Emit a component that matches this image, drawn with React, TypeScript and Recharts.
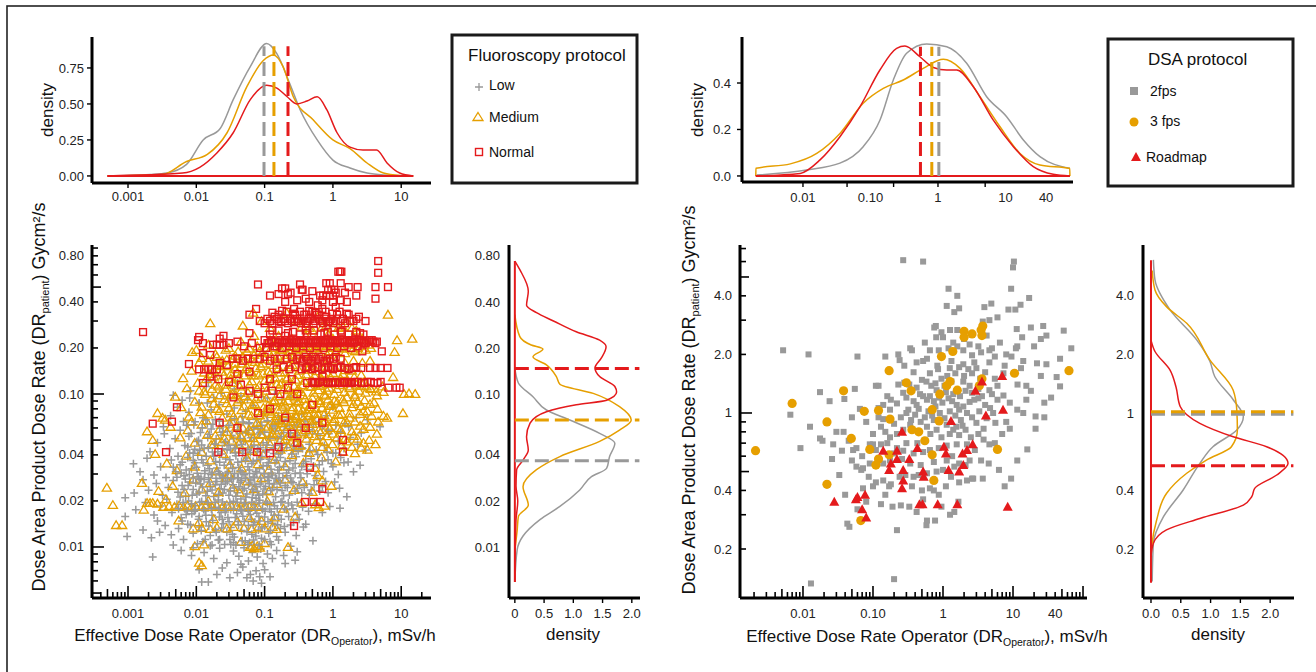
import React from 'react';
import { ScatterChart, Scatter, XAxis, YAxis, ComposedChart, Line, ReferenceLine } from 'recharts';

const GRAY = '#999999';
const ORANGE = '#E69F00';
const RED = '#E41A1C';
const INK = '#222222';
const FONT = '"Liberation Sans", Arial, Helvetica, sans-serif';

// ---------- tick labels ----------
const fluoroXLabelVals = [0.001, 0.01, 0.1, 1, 10];
const fluoroXLabelTexts = ['0.001', '0.01', '0.1', '1', '10'];
const fluoroYLabelVals = [0.01, 0.02, 0.04, 0.1, 0.2, 0.4, 0.8];
const fluoroYLabelTexts = ['0.01', '0.02', '0.04', '0.10', '0.20', '0.40', '0.80'];
const dsaXLabelVals = [0.01, 0.1, 1, 10, 40];
const dsaXLabelTexts = ['0.01', '0.10', '1', '10', '40'];
const dsaYLabelVals = [0.2, 0.4, 1, 2, 4];
const dsaYLabelTexts = ['0.2', '0.4', '1', '2.0', '4.0'];
const dsaTopTickMarks = [0.01, 0.045, 0.22, 1, 5];
const fluoroDensYTicks = [0, 0.25, 0.5, 0.75];
const dsaDensYTicks = [0, 0.2, 0.4];
const margXTicks = [0, 0.5, 1, 1.5, 2];

// ---------- fluoroscopy scatter (x = DR operator, y = DR patient) ----------
const lowPts: number[][] = [
[0.012,0.0059],[0.015,0.0059],[0.031,0.0063],[0.055,0.0063],[0.068,0.006],[0.085,0.0064],[0.12,0.0064],[0.048,0.0074],[0.024,0.0073],[0.011,0.0071],[0.04,0.0068],[0.075,0.007],[0.1,0.0071],[0.062,0.0066],[0.09,0.0058],[0.02,0.0066],[0.28,0.0082],
[0.0023,0.0086],[0.0046,0.0103],[0.006,0.0095],[0.0085,0.0088],[0.013,0.0092],[0.018,0.0084],[0.022,0.0098],[0.028,0.0079],[0.035,0.0094],[0.042,0.0087],[0.05,0.0099],[0.058,0.0081],[0.066,0.0092],[0.078,0.0086],[0.088,0.0097],[0.095,0.0078],[0.11,0.009],[0.13,0.0084],[0.15,0.0095],[0.19,0.0088],[0.24,0.0101],[0.3,0.0093],[0.016,0.0102],[0.032,0.0104],[0.07,0.0103],[0.2,0.0078],[0.009,0.0099],[0.045,0.0077],
[0.00097,0.0117],[0.00166,0.0129],[0.0022,0.0115],[0.0029,0.0125],[0.0035,0.0138],[0.0043,0.012],[0.0055,0.0132],[0.0065,0.0112],[0.0075,0.0141],[0.009,0.0123],[0.011,0.0135],[0.0125,0.0108],[0.014,0.0146],[0.016,0.0119],[0.019,0.013],[0.022,0.0112],[0.025,0.0142],[0.028,0.0125],[0.032,0.0134],[0.036,0.0116],[0.041,0.0147],[0.046,0.0128],[0.052,0.011],[0.058,0.0138],[0.065,0.0121],[0.072,0.0145],[0.081,0.0129],[0.09,0.0114],[0.1,0.0136],[0.115,0.0123],[0.13,0.0143],[0.15,0.0117],[0.17,0.0132],[0.2,0.0125],[0.24,0.0139],[0.29,0.0119],[0.37,0.0135],[0.51,0.011],[0.06,0.0107],[0.085,0.0148],[0.12,0.0108],[0.035,0.0107],[0.0027,0.0148],
[0.00091,0.0158],[0.0013,0.0175],[0.0018,0.0195],[0.0024,0.0162],[0.003,0.0185],[0.0037,0.0205],[0.0044,0.0168],[0.0052,0.019],[0.006,0.0155],[0.0068,0.0178],[0.0077,0.02],[0.0086,0.0165],[0.0096,0.0186],[0.011,0.0158],[0.012,0.0198],[0.0135,0.0172],[0.015,0.019],[0.017,0.0161],[0.019,0.0182],[0.021,0.0203],[0.023,0.0168],[0.026,0.0188],[0.029,0.0156],[0.032,0.0176],[0.035,0.0199],[0.039,0.0165],[0.043,0.0185],[0.048,0.0159],[0.053,0.0195],[0.058,0.0171],[0.064,0.0152],[0.07,0.0189],[0.077,0.0166],[0.085,0.0202],[0.093,0.0176],[0.1,0.0157],[0.11,0.0192],[0.125,0.017],[0.14,0.0186],[0.16,0.0161],[0.18,0.0198],[0.21,0.0175],[0.25,0.0188],[0.3,0.0163],[0.36,0.0182],[0.44,0.0171],[0.55,0.0192],[0.7,0.0168],[0.9,0.0184],[1.27,0.0179],[0.045,0.0206],[0.075,0.0208],[0.024,0.0152],[0.13,0.0151],
[0.00091,0.021],[0.00123,0.0225],[0.00166,0.0275],[0.002,0.0235],[0.0026,0.026],[0.0032,0.0218],[0.0039,0.0245],[0.0046,0.0272],[0.0054,0.0228],[0.0062,0.0252],[0.007,0.0215],[0.008,0.0266],[0.009,0.0238],[0.0102,0.0222],[0.0115,0.0258],[0.013,0.0276],[0.0145,0.0231],[0.016,0.0248],[0.018,0.0214],[0.02,0.0268],[0.022,0.024],[0.0245,0.0225],[0.027,0.0262],[0.03,0.0218],[0.033,0.0278],[0.036,0.0243],[0.04,0.0226],[0.044,0.0265],[0.048,0.0236],[0.053,0.0212],[0.058,0.0256],[0.063,0.0274],[0.069,0.0229],[0.075,0.0248],[0.082,0.0218],[0.09,0.0267],[0.098,0.0239],[0.107,0.0222],[0.117,0.026],[0.13,0.0244],[0.145,0.0213],[0.16,0.0271],[0.18,0.0234],[0.2,0.0252],[0.23,0.0219],[0.26,0.0263],[0.3,0.0241],[0.35,0.0226],[0.41,0.0258],[0.48,0.0236],[0.58,0.0272],[0.7,0.0248],[0.85,0.0226],[1.06,0.0266],[1.6,0.0213],[1.25,0.0242],[0.024,0.0279],[0.011,0.0277],[0.066,0.0211],[0.15,0.0278],
[0.0012,0.035],[0.0015,0.031],[0.0019,0.038],[0.0024,0.0295],[0.003,0.0335],[0.0036,0.0285],[0.0043,0.037],[0.005,0.031],[0.0058,0.0345],[0.0066,0.0292],[0.0075,0.0385],[0.0085,0.0325],[0.0095,0.0355],[0.0107,0.0288],[0.012,0.0372],[0.0133,0.0315],[0.0148,0.0342],[0.0165,0.0298],[0.018,0.0392],[0.02,0.0328],[0.022,0.0358],[0.0243,0.0291],[0.027,0.0376],[0.0295,0.0312],[0.032,0.0348],[0.035,0.0284],[0.038,0.0395],[0.042,0.0331],[0.046,0.0362],[0.05,0.0297],[0.055,0.0381],[0.06,0.0318],[0.065,0.0352],[0.071,0.0287],[0.077,0.0369],[0.084,0.0325],[0.091,0.0391],[0.099,0.0303],[0.108,0.0341],[0.118,0.0375],[0.13,0.0296],[0.142,0.0356],[0.156,0.0318],[0.17,0.0385],[0.19,0.0336],[0.21,0.0292],[0.235,0.0366],[0.26,0.0328],[0.29,0.0389],[0.33,0.0305],[0.37,0.0352],[0.42,0.0321],[0.48,0.0378],[0.55,0.0293],[0.63,0.0345],[0.73,0.0312],[0.85,0.0372],[1.0,0.0335],[1.2,0.0298],[1.45,0.0355],[1.67,0.036],[2.0,0.031],[2.5,0.0342],[0.0105,0.0398],[0.04,0.0283],[0.115,0.0289],[0.4,0.0395],
[0.0021,0.042],[0.0027,0.048],[0.0034,0.055],[0.0041,0.044],[0.0049,0.051],[0.0058,0.058],[0.0068,0.046],[0.0078,0.053],[0.009,0.041],[0.0102,0.049],[0.0115,0.056],[0.013,0.044],[0.0147,0.052],[0.0165,0.059],[0.0185,0.047],[0.0207,0.042],[0.023,0.054],[0.0257,0.048],[0.0285,0.057],[0.0315,0.043],[0.035,0.051],[0.0388,0.046],[0.043,0.055],[0.0475,0.041],[0.0525,0.049],[0.058,0.058],[0.064,0.045],[0.0705,0.052],[0.078,0.042],[0.086,0.056],[0.095,0.048],[0.105,0.043],[0.116,0.053],[0.128,0.059],[0.141,0.046],[0.156,0.051],[0.172,0.042],[0.19,0.056],[0.21,0.047],[0.235,0.053],[0.26,0.043],[0.29,0.058],[0.32,0.049],[0.36,0.044],[0.4,0.054],[0.45,0.047],[0.5,0.057],[0.57,0.043],[0.65,0.051],[0.75,0.046],[0.87,0.055],[1.0,0.041],[1.2,0.049],[1.45,0.044],[1.8,0.052],[2.3,0.047],[3.0,0.043],[0.08,0.0595],[0.022,0.0598],[0.16,0.0405],
[0.0033,0.061],[0.0042,0.072],[0.0053,0.082],[0.0065,0.066],[0.0078,0.076],[0.0092,0.063],[0.011,0.087],[0.0125,0.07],[0.0145,0.064],[0.0165,0.079],[0.019,0.068],[0.0215,0.085],[0.0245,0.062],[0.028,0.074],[0.032,0.067],[0.036,0.081],[0.041,0.063],[0.047,0.071],[0.053,0.077],[0.06,0.065],[0.068,0.084],[0.077,0.069],[0.087,0.062],[0.098,0.075],[0.11,0.066],[0.125,0.08],[0.142,0.063],[0.16,0.072],[0.18,0.067],[0.205,0.078],[0.23,0.062],[0.26,0.07],[0.3,0.065],[0.35,0.074],[0.42,0.063],[0.5,0.069],[0.62,0.066],[0.8,0.072],[1.0,0.082],[1.5,0.064],[2.2,0.07],[3.2,0.068],[4.9,0.061],[0.0145,0.0875],[0.045,0.088],
[0.0046,0.098],[0.0062,0.091],[0.0082,0.105],[0.011,0.087],[0.014,0.112],[0.018,0.095],[0.023,0.101],[0.029,0.093],[0.036,0.108],[0.045,0.097],[0.056,0.092],[0.07,0.103],[0.09,0.096],[0.11,0.094],[0.14,0.1],[0.18,0.092],[0.24,0.097],[0.3,0.093],[0.015,0.12],[0.04,0.118],[0.008,0.094]
];
const lowCorePts: number[][] = [
[0.0062,0.0148],[0.0071,0.0163],[0.0082,0.0139],[0.0093,0.0171],[0.0108,0.0152],[0.0118,0.0128],[0.0138,0.0161],[0.0152,0.0137],[0.0174,0.0149],[0.0196,0.0125],[0.0218,0.0157],[0.0236,0.0133],[0.0265,0.0169],[0.0302,0.0146],[0.0338,0.0121],[0.0372,0.0156],[0.0415,0.0139],[0.0462,0.0172],[0.0505,0.0147],[0.0552,0.0126],[0.0615,0.0163],[0.0682,0.0139],[0.0745,0.0118],[0.0825,0.0158],[0.0915,0.0133],[0.102,0.0171],[0.112,0.0146],[0.122,0.0128],[0.138,0.0161],[0.155,0.014],[0.175,0.0152],[0.195,0.0136],[0.225,0.0158],[0.265,0.0145],[0.32,0.0152],[0.4,0.0141],
[0.0058,0.0212],[0.0066,0.0238],[0.0076,0.0252],[0.0087,0.0218],[0.0098,0.0262],[0.011,0.0229],[0.0123,0.0247],[0.0138,0.0216],[0.0154,0.0266],[0.017,0.0236],[0.019,0.0255],[0.0212,0.0221],[0.0232,0.0257],[0.0258,0.0238],[0.0285,0.0269],[0.0315,0.0232],[0.0345,0.0255],[0.038,0.0215],[0.042,0.0248],[0.046,0.0273],[0.0505,0.0242],[0.055,0.0222],[0.0605,0.0262],[0.066,0.0238],[0.072,0.0255],[0.0785,0.0231],[0.086,0.0258],[0.094,0.0222],[0.103,0.0249],[0.112,0.0272],[0.123,0.0234],[0.137,0.0258],[0.152,0.0238],[0.17,0.0262],[0.19,0.0216],[0.215,0.0245],[0.245,0.0268],[0.28,0.0232],[0.32,0.0256],[0.38,0.0245],[0.45,0.0222],[0.53,0.0255],[0.64,0.0232],[0.78,0.0268],
[0.0046,0.0332],[0.0054,0.0392],[0.0062,0.0358],[0.0071,0.0318],[0.008,0.0412],[0.009,0.0368],[0.01,0.0332],[0.0112,0.0428],[0.0126,0.0355],[0.014,0.0392],[0.0156,0.0325],[0.0172,0.0418],[0.0192,0.0362],[0.021,0.0312],[0.0232,0.0405],[0.0256,0.0342],[0.0282,0.0432],[0.031,0.0372],[0.034,0.0326],[0.0372,0.0412],[0.0405,0.0358],[0.044,0.0315],[0.048,0.0425],[0.0525,0.0368],[0.057,0.0335],[0.062,0.0415],[0.068,0.0362],[0.074,0.0312],[0.08,0.0435],[0.087,0.0375],[0.095,0.0338],[0.104,0.0418],[0.113,0.0355],[0.124,0.0322],[0.136,0.0408],[0.15,0.0368],[0.165,0.0332],[0.182,0.0425],[0.2,0.0362],[0.225,0.0318],[0.25,0.0405],[0.28,0.0352],[0.31,0.0425],[0.35,0.0335],[0.4,0.0362],[0.46,0.0425],[0.52,0.0338],[0.6,0.0402],[0.7,0.0365],[0.82,0.0418],[0.95,0.0352],[1.1,0.0412],[1.3,0.0385],
[0.0072,0.0625],[0.0084,0.0552],[0.0096,0.0658],[0.0108,0.0498],[0.0122,0.0602],[0.0138,0.0678],[0.0155,0.0545],[0.0175,0.0635],[0.0195,0.0508],[0.0218,0.0665],[0.0242,0.0562],[0.027,0.0488],[0.03,0.0625],[0.033,0.0535],[0.0365,0.0688],[0.04,0.0585],[0.044,0.0512],[0.0485,0.0655],[0.053,0.0562],[0.058,0.0638],[0.0635,0.0518],[0.0695,0.0605],[0.076,0.0682],[0.083,0.0548],[0.091,0.0625],[0.1,0.0565],[0.11,0.0668],[0.12,0.0512],[0.132,0.0618],[0.145,0.0572],[0.16,0.0658],[0.176,0.0525],[0.195,0.0612],[0.215,0.0682],[0.24,0.0558],[0.27,0.0628],[0.3,0.0535],[0.34,0.0608],[0.39,0.0665],[0.45,0.0585],[0.52,0.0632],[0.6,0.0548],[0.7,0.0612],[0.85,0.0578],[1.1,0.0625],[1.3,0.0558],[1.7,0.0612],[2.6,0.0555]
];
const lowFillPts: number[][] = [
[0.0055,0.0178],[0.0064,0.0195],[0.0074,0.0172],[0.0085,0.0192],[0.0097,0.0175],[0.0112,0.0196],[0.0128,0.0176],[0.0146,0.0195],[0.0166,0.0178],[0.0188,0.0196],[0.0214,0.0178],[0.0242,0.0197],[0.0274,0.0176],[0.031,0.0195],[0.035,0.0177],[0.0396,0.0196],[0.0448,0.0175],[0.0506,0.0194],[0.0572,0.0178],[0.0646,0.0196],[0.073,0.0177],[0.0825,0.0194],[0.093,0.0178],[0.105,0.0197],[0.119,0.0177],[0.135,0.0195],[0.153,0.0178],[0.173,0.0196],[0.196,0.0178],[0.222,0.0194],[0.26,0.0178],[0.3,0.0196],
[0.0052,0.0286],[0.006,0.0305],[0.0069,0.0278],[0.0079,0.0298],[0.009,0.0282],[0.0103,0.0303],[0.0117,0.0281],[0.0133,0.0302],[0.0151,0.0283],[0.0171,0.0305],[0.0194,0.0281],[0.022,0.0301],[0.025,0.0283],[0.0283,0.0304],[0.0321,0.0281],[0.0364,0.0302],[0.0412,0.0283],[0.0467,0.0305],[0.0529,0.0281],[0.06,0.0302],[0.068,0.0283],[0.077,0.0305],[0.0873,0.0282],[0.099,0.0301],[0.112,0.0283],[0.127,0.0304],[0.144,0.0281],[0.163,0.0302],[0.185,0.0283],[0.21,0.0305],[0.24,0.0282],[0.28,0.0302],[0.34,0.0283],[0.42,0.0301],
[0.0104,0.0105],[0.0135,0.0112],[0.017,0.0103],[0.021,0.0111],[0.026,0.0104],[0.031,0.0112],[0.038,0.0103],[0.047,0.011],[0.057,0.0104],[0.069,0.0111],[0.083,0.0103],[0.1,0.0112],[0.125,0.0104],[0.16,0.0111],
[0.0075,0.045],[0.0095,0.0435],[0.012,0.0465],[0.015,0.0445],[0.019,0.047],[0.024,0.0438],[0.03,0.0462],[0.037,0.0442],[0.046,0.0468],[0.057,0.0436],[0.07,0.046],[0.087,0.0445],[0.108,0.0465],[0.135,0.044],[0.17,0.0462],[0.21,0.0445],[0.27,0.046],[0.35,0.0445]
];

const mediumPts: number[][] = [
[0.011,0.0079],[0.012,0.0076],[0.061,0.01],[0.066,0.0102],[0.07,0.0098],[0.078,0.0101],[0.085,0.0099],[0.22,0.01],[0.0095,0.0101],[0.013,0.0104],[0.045,0.0108],[0.1,0.0106],
[0.00067,0.0139],[0.00082,0.0139],[0.009,0.0132],[0.012,0.0133],[0.016,0.0131],[0.02,0.0134],[0.028,0.0132],[0.035,0.0135],[0.05,0.0133],[0.065,0.0131],[0.08,0.0134],[0.1,0.0132],[0.13,0.0135],[0.15,0.0131],[0.28,0.0158],[0.018,0.0152],[0.04,0.0147],[0.09,0.0148],[0.011,0.0145],[0.0055,0.0149],[0.14,0.0156],[0.06,0.0155],
[0.0006,0.0188],[0.0017,0.0175],[0.0019,0.0194],[0.0021,0.0194],[0.0023,0.0194],[0.0027,0.0192],[0.0033,0.0183],[0.004,0.0185],[0.0048,0.0183],[0.0056,0.0187],[0.0065,0.0183],[0.0074,0.0186],[0.0085,0.0183],[0.0098,0.0185],[0.012,0.0183],[0.014,0.0188],[0.017,0.0183],[0.02,0.0186],[0.024,0.0183],[0.028,0.0187],[0.033,0.0183],[0.039,0.0185],[0.045,0.0183],[0.052,0.0186],[0.06,0.0183],[0.07,0.0185],[0.08,0.0183],[0.0036,0.0205],[0.015,0.0201],[0.11,0.0199],[0.19,0.0178],[0.35,0.0195],[0.55,0.019],[0.75,0.0186],[0.62,0.0182],
[0.00049,0.0244],[0.0016,0.0262],[0.0028,0.0232],[0.0045,0.0251],[0.0068,0.0226],[0.009,0.0275],[0.012,0.0238],[0.016,0.0262],[0.021,0.0228],[0.027,0.0284],[0.034,0.0245],[0.043,0.0226],[0.055,0.0268],[0.07,0.0239],[0.09,0.0282],[0.115,0.0231],[0.15,0.0258],[0.2,0.0276],[0.27,0.0236],[0.36,0.0265],[0.5,0.0229],[0.7,0.0272],[0.95,0.0251],[0.6,0.0295],[0.03,0.0298],
[0.0037,0.0352],[0.0052,0.0318],[0.0071,0.0395],[0.0095,0.0335],[0.012,0.0418],[0.016,0.0368],[0.02,0.0312],[0.025,0.0405],[0.031,0.0345],[0.038,0.0438],[0.046,0.0326],[0.055,0.0382],[0.066,0.0425],[0.08,0.0348],[0.095,0.0402],[0.115,0.0318],[0.14,0.0372],[0.17,0.0432],[0.2,0.0336],[0.25,0.0398],[0.3,0.0442],[0.37,0.0355],[0.45,0.0412],[0.55,0.0328],[0.68,0.0386],[0.85,0.0436],[1.1,0.0362],[1.4,0.0418],[2.1,0.041],[2.6,0.0445],[3.2,0.0432],[0.0025,0.0405],
[0.0019,0.057],[0.0023,0.05],[0.0042,0.061],[0.0058,0.052],[0.0075,0.058],[0.0095,0.048],[0.012,0.063],[0.0145,0.054],[0.018,0.047],[0.022,0.059],[0.026,0.051],[0.031,0.064],[0.036,0.055],[0.042,0.047],[0.048,0.06],[0.055,0.052],[0.063,0.057],[0.072,0.049],[0.082,0.062],[0.093,0.054],[0.105,0.059],[0.12,0.047],[0.135,0.063],[0.15,0.055],[0.17,0.05],[0.19,0.061],[0.22,0.053],[0.25,0.058],[0.28,0.048],[0.32,0.064],[0.36,0.056],[0.41,0.051],[0.47,0.06],[0.54,0.053],[0.62,0.058],[0.72,0.049],[0.84,0.062],[1.0,0.055],[1.2,0.06],[1.5,0.051],[1.9,0.057],[2.5,0.062],[3.5,0.061],[4.4,0.055],
[0.0027,0.075],[0.0032,0.07],[0.0035,0.068],[0.0049,0.096],[0.006,0.082],[0.0078,0.071],[0.0095,0.089],[0.0115,0.076],[0.014,0.067],[0.017,0.094],[0.02,0.08],[0.024,0.07],[0.028,0.087],[0.033,0.075],[0.038,0.098],[0.044,0.068],[0.05,0.083],[0.057,0.092],[0.064,0.072],[0.072,0.086],[0.081,0.077],[0.09,0.095],[0.1,0.069],[0.112,0.084],[0.125,0.074],[0.14,0.091],[0.155,0.079],[0.172,0.067],[0.19,0.088],[0.21,0.075],[0.235,0.097],[0.26,0.082],[0.29,0.07],[0.32,0.09],[0.36,0.078],[0.4,0.085],[0.45,0.072],[0.5,0.094],[0.57,0.08],[0.65,0.087],[0.74,0.073],[0.85,0.092],[1.0,0.079],[1.15,0.088],[1.35,0.074],[1.6,0.095],[1.9,0.082],[2.3,0.089],[2.8,0.077],[3.5,0.086],[4.5,0.08],[6.2,0.07],[10.6,0.075],[0.032,0.099],[0.0085,0.066],
[0.0064,0.127],[0.0073,0.109],[0.0085,0.142],[0.0105,0.118],[0.013,0.104],[0.016,0.135],[0.019,0.115],[0.023,0.152],[0.027,0.108],[0.032,0.126],[0.037,0.145],[0.043,0.112],[0.05,0.132],[0.057,0.102],[0.065,0.121],[0.074,0.148],[0.084,0.114],[0.095,0.136],[0.107,0.105],[0.12,0.125],[0.135,0.155],[0.15,0.116],[0.17,0.138],[0.19,0.107],[0.215,0.128],[0.24,0.149],[0.27,0.113],[0.3,0.133],[0.34,0.103],[0.38,0.122],[0.43,0.144],[0.48,0.111],[0.54,0.131],[0.61,0.106],[0.69,0.125],[0.78,0.151],[0.88,0.117],[1.0,0.137],[1.15,0.108],[1.3,0.126],[1.5,0.143],[1.75,0.112],[2.05,0.129],[2.4,0.105],[2.9,0.12],[3.5,0.109],[4.3,0.104],[7.6,0.129],[11,0.1],[13,0.101],[16,0.1],[5.5,0.103],[0.045,0.158],
[0.0087,0.188],[0.01,0.194],[0.012,0.172],[0.015,0.21],[0.019,0.182],[0.024,0.165],[0.03,0.2],[0.037,0.178],[0.045,0.22],[0.055,0.19],[0.065,0.168],[0.078,0.205],[0.092,0.185],[0.108,0.2],[0.125,0.175],[0.145,0.215],[0.165,0.195],[0.19,0.2],[0.22,0.18],[0.25,0.203],[0.29,0.198],[0.33,0.2],[0.38,0.185],[0.44,0.205],[0.5,0.2],[0.58,0.195],[0.67,0.21],[0.78,0.2],[0.9,0.19],[1.05,0.205],[1.2,0.2],[1.4,0.198],[1.65,0.21],[1.95,0.195],[2.3,0.2],[2.7,0.23],[3.3,0.21],[8,0.188],[8.7,0.225],[14.5,0.23],[0.16,0.24],[0.4,0.24],[0.85,0.245],[0.07,0.24],
[0.016,0.29],[0.048,0.28],[0.068,0.34],[0.21,0.34],[0.12,0.27],[0.3,0.3],[0.5,0.26],[0.8,0.28],[1.2,0.27],[1.6,0.3],[6.4,0.33],[2.2,0.26],[0.09,0.3],[0.6,0.32],[0.35,0.275],[0.45,0.27],[0.7,0.275],[1.0,0.27],[1.4,0.275],[1.9,0.27]
];
const mediumCorePts: number[][] = [
[0.0165,0.0465],[0.019,0.0535],[0.0235,0.0485],[0.028,0.0565],[0.033,0.0495],[0.039,0.0612],[0.045,0.0528],[0.052,0.0468],[0.059,0.0585],[0.068,0.0515],[0.077,0.0648],[0.088,0.0545],[0.099,0.0488],[0.112,0.0612],[0.127,0.0525],[0.143,0.0668],[0.16,0.0578],[0.18,0.0648],[0.2,0.0505],[0.23,0.0625],[0.26,0.0688],[0.3,0.0545],[0.34,0.0612],[0.39,0.0668],[0.44,0.0548],[0.5,0.0638],[0.58,0.0685],[0.66,0.0562],[0.77,0.0665],[0.9,0.0598],[1.05,0.0688],[1.3,0.0582],[1.6,0.0655],[2.0,0.0532],[2.8,0.0592],
[0.012,0.0825],[0.015,0.0735],[0.018,0.0865],[0.022,0.0775],[0.026,0.0925],[0.03,0.0815],[0.035,0.0712],[0.04,0.0885],[0.046,0.0785],[0.052,0.0965],[0.058,0.0735],[0.066,0.0845],[0.075,0.0925],[0.085,0.0725],[0.096,0.0812],[0.106,0.0935],[0.118,0.0765],[0.132,0.0885],[0.148,0.0715],[0.165,0.0965],[0.18,0.0825],[0.2,0.0738],[0.22,0.0902],[0.25,0.0785],[0.28,0.0948],[0.31,0.0805],[0.35,0.0715],[0.39,0.0925],[0.43,0.0795],[0.48,0.0868],[0.54,0.0742],[0.61,0.0905],[0.69,0.0812],[0.78,0.0975],[0.88,0.0835],[1.05,0.0902],[1.25,0.0812],[1.45,0.0885],[1.75,0.0745],[2.1,0.0955],[2.6,0.0835],[3.2,0.0768],
[0.011,0.105],[0.014,0.125],[0.018,0.142],[0.021,0.112],[0.025,0.132],[0.029,0.152],[0.034,0.118],[0.04,0.138],[0.046,0.106],[0.053,0.145],[0.06,0.115],[0.069,0.132],[0.078,0.108],[0.088,0.152],[0.1,0.122],[0.113,0.141],[0.127,0.112],[0.142,0.128],[0.16,0.148],[0.18,0.119],[0.2,0.139],[0.225,0.106],[0.255,0.155],[0.285,0.124],[0.32,0.142],[0.36,0.114],[0.405,0.134],[0.455,0.152],[0.51,0.121],[0.575,0.141],[0.65,0.113],[0.73,0.136],[0.82,0.105],[0.93,0.128],[1.08,0.148],[1.22,0.118],[1.4,0.135],[1.62,0.124],[1.9,0.142],[2.2,0.115],[2.6,0.133],[3.1,0.112],
[0.02,0.175],[0.027,0.195],[0.034,0.17],[0.041,0.19],[0.05,0.165],[0.06,0.198],[0.07,0.18],[0.085,0.192],[0.1,0.168],[0.115,0.188],[0.135,0.2],[0.155,0.178],[0.175,0.195],[0.2,0.172],[0.23,0.19],[0.27,0.205],[0.31,0.18],[0.36,0.195],[0.41,0.2],[0.47,0.178],[0.54,0.2],[0.62,0.188],[0.72,0.205],[0.83,0.18],[0.96,0.2],[1.1,0.19],[1.3,0.205],[1.5,0.185],[1.8,0.2],[2.1,0.19],[2.5,0.205],[3.0,0.195],[3.6,0.2],[0.12,0.225],[0.25,0.23],[0.55,0.225],[1.0,0.23],[2.0,0.235]
];
const mediumFillPts: number[][] = [
[0.22,0.045],[0.27,0.052],[0.33,0.046],[0.4,0.058],[0.48,0.044],[0.58,0.05],[0.7,0.045],[0.82,0.053],[0.98,0.047],[1.15,0.052],[1.35,0.046],[1.6,0.049],[1.9,0.045],[2.3,0.051],[2.8,0.048],[3.4,0.05],[4.2,0.047],
[0.24,0.066],[0.29,0.072],[0.35,0.064],[0.42,0.075],[0.5,0.067],[0.6,0.074],[0.72,0.065],[0.86,0.071],[1.02,0.066],[1.22,0.073],[1.45,0.065],[1.75,0.07],[2.1,0.066],[2.5,0.074],[3.0,0.067],[3.7,0.072],[4.6,0.066],[5.5,0.072],
[0.26,0.1],[0.31,0.108],[0.37,0.098],[0.44,0.112],[0.52,0.102],[0.62,0.115],[0.74,0.099],[0.88,0.11],[1.05,0.1],[1.25,0.114],[1.48,0.103],[1.76,0.109],[2.1,0.099],[2.5,0.113],[3.0,0.102],[3.6,0.108],[4.4,0.098],[5.3,0.112],
[0.011,0.16],[0.013,0.138],[0.015,0.165],[0.018,0.13],[0.021,0.155],[0.024,0.14],[0.028,0.168],[0.032,0.135],[0.037,0.158],[0.042,0.128],[0.048,0.176],[0.055,0.15],[0.063,0.138],[0.072,0.162],[0.082,0.132],[0.094,0.158],[0.0135,0.1],[0.017,0.108],[0.022,0.098],[0.027,0.115],[0.034,0.1],[0.042,0.092],
[0.2,0.085],[0.3,0.088],[0.45,0.082],[0.65,0.09],[0.95,0.085],[1.4,0.092],[2.0,0.086],[2.9,0.091],[4.0,0.088],
[0.13,0.055],[0.16,0.068],[0.11,0.078],[0.14,0.09],[0.17,0.115],[0.21,0.125],[0.12,0.135],[0.15,0.165],[0.23,0.155],[0.28,0.17],[0.35,0.165],[0.45,0.16],[0.6,0.165],[0.8,0.16],[1.1,0.165],[1.5,0.16],[2.0,0.165],[2.7,0.16],[3.5,0.165]
];

const normalPts: number[][] = [
[0.08,0.52],[0.18,0.49],[0.2,0.49],[0.22,0.45],[0.24,0.46],[0.33,0.52],[0.35,0.48],[0.36,0.48],[0.5,0.47],[0.65,0.44],[0.72,0.44],[0.8,0.44],[0.9,0.44],[1.0,0.44],[0.85,0.48],[0.95,0.48],[1.05,0.48],[1.1,0.46],[1.2,0.63],[1.27,0.63],[1.33,0.63],[0.8,0.53],[0.9,0.53],[1.3,0.53],[1.7,0.5],[2.3,0.5],[2.2,0.44],[1.6,0.4],[4.2,0.5],[6.4,0.5],[4.2,0.42],[4.6,0.74],[4.6,0.62],[0.6,0.38],[1.5,0.46],[0.4,0.42],
[0.085,0.3],[0.1,0.29],[0.12,0.3],[0.14,0.32],[0.16,0.3],[0.19,0.31],[0.22,0.29],[0.25,0.3],[0.28,0.33],[0.31,0.3],[0.34,0.29],[0.38,0.33],[0.42,0.3],[0.47,0.31],[0.52,0.29],[0.58,0.33],[0.65,0.3],[0.72,0.29],[0.8,0.32],[0.9,0.3],[1.0,0.29],[1.15,0.33],[1.3,0.3],[1.5,0.29],[1.7,0.33],[2.0,0.3],[2.4,0.32],[3.0,0.3],[0.06,0.33],[0.075,0.36],[0.27,0.36],[0.45,0.35],[0.7,0.36],[1.1,0.37],[0.18,0.35],[0.55,0.34],
[0.0106,0.225],[0.011,0.236],[0.0125,0.215],[0.0176,0.21],[0.02,0.21],[0.022,0.21],[0.025,0.21],[0.022,0.23],[0.03,0.215],[0.04,0.22],[0.05,0.205],[0.065,0.215],[0.085,0.2],[0.1,0.225],[0.115,0.215],[0.13,0.22],[0.15,0.205],[0.17,0.225],[0.19,0.215],[0.21,0.22],[0.24,0.225],[0.27,0.215],[0.3,0.22],[0.34,0.225],[0.38,0.215],[0.43,0.22],[0.48,0.225],[0.54,0.215],[0.6,0.22],[0.68,0.225],[0.76,0.215],[0.85,0.22],[0.95,0.225],[1.07,0.215],[1.2,0.22],[1.35,0.225],[1.5,0.22],[1.7,0.215],[1.9,0.225],[2.1,0.22],[2.4,0.225],[2.7,0.22],[3.0,0.215],[3.4,0.225],[3.9,0.22],[4.4,0.22],[5.2,0.19],[0.22,0.25],[0.4,0.26],[0.75,0.25],[1.3,0.26],[2.5,0.25],[0.13,0.26],[0.06,0.25],[0.025,0.24],[0.00166,0.254],
[0.0078,0.157],[0.011,0.145],[0.013,0.145],[0.015,0.145],[0.017,0.145],[0.02,0.145],[0.022,0.16],[0.028,0.155],[0.034,0.17],[0.04,0.17],[0.048,0.165],[0.057,0.17],[0.068,0.17],[0.085,0.17],[0.1,0.175],[0.12,0.165],[0.14,0.17],[0.17,0.17],[0.21,0.17],[0.25,0.175],[0.3,0.17],[0.36,0.165],[0.43,0.17],[0.52,0.175],[0.62,0.17],[0.75,0.165],[0.9,0.17],[1.1,0.175],[0.15,0.145],[0.19,0.15],[0.23,0.145],[0.28,0.15],[0.35,0.145],[0.42,0.15],[0.5,0.145],[0.6,0.15],[0.7,0.145],[0.85,0.15],[1.0,0.145],[1.3,0.15],[1.7,0.145],[2.2,0.15],[3.5,0.148],[4.2,0.148],[5.0,0.148],[6.3,0.148],[0.06,0.14],[0.04,0.135],[2.7,0.19],[0.0125,0.185],[0.016,0.18],
[0.0125,0.118],[0.0158,0.13],[0.021,0.125],[0.03,0.12],[0.045,0.115],[0.06,0.105],[0.08,0.1],[0.1,0.11],[0.13,0.105],[0.17,0.1],[0.22,0.11],[0.3,0.1],[0.42,0.118],[0.5,0.12],[0.6,0.118],[0.72,0.12],[0.85,0.118],[1.0,0.12],[1.2,0.118],[1.45,0.12],[1.75,0.118],[2.1,0.12],[2.6,0.118],[3.2,0.12],[4.0,0.118],[5.0,0.12],[6.5,0.11],[8.5,0.11],[9.5,0.11],[0.035,0.095],[0.25,0.125],[0.7,0.13],[0.12,0.125],
[0.0023,0.064],[0.0044,0.066],[0.0052,0.082],[0.022,0.065],[0.04,0.06],[0.08,0.075],[0.12,0.08],[0.2,0.07],[0.25,0.055],[0.4,0.06],[0.7,0.065],[1.4,0.05],[0.5,0.085],[0.0036,0.0417],[0.021,0.0417],[0.047,0.0417],[0.077,0.0417],[0.12,0.041],[1.4,0.042],[0.46,0.033],[0.7,0.024],[0.39,0.0197],[0.52,0.0197],[0.65,0.0197],[0.27,0.0137],[0.16,0.045],[0.3,0.048]
];
const normalRowPts: number[][] = [
[0.11,0.215],[0.125,0.225],[0.145,0.22],[0.16,0.215],[0.18,0.22],[0.2,0.225],[0.225,0.215],[0.255,0.22],[0.285,0.225],[0.32,0.215],[0.36,0.22],[0.4,0.225],[0.455,0.215],[0.51,0.22],[0.57,0.225],[0.64,0.215],[0.72,0.22],[0.8,0.225],[0.9,0.215],[1.0,0.22],[1.13,0.225],[1.28,0.215],[1.42,0.22],[1.6,0.225],[1.8,0.22],[2.0,0.215],[2.25,0.22],[2.55,0.225],[2.85,0.215],[3.2,0.22],[3.7,0.225],[4.2,0.215],
[0.11,0.31],[0.13,0.29],[0.15,0.31],[0.175,0.295],[0.2,0.3],[0.235,0.31],[0.27,0.295],[0.3,0.31],[0.36,0.3],[0.4,0.29],[0.44,0.31],[0.55,0.3],[0.62,0.31],[0.7,0.3],[0.85,0.295],[0.95,0.31],[1.1,0.3],[1.4,0.31],[1.8,0.3],[2.2,0.31],
[0.33,0.17],[0.4,0.175],[0.48,0.165],[0.57,0.17],[0.68,0.175],[0.82,0.165],[1.0,0.17],[1.3,0.17],[0.4,0.148],[0.55,0.148],[0.75,0.148],[0.95,0.148],[1.15,0.148],[1.5,0.148],[2.0,0.148],[2.6,0.148],[0.55,0.118],[0.65,0.12],[0.8,0.12],[0.95,0.118],[1.1,0.12],[1.35,0.118],[1.6,0.12],[1.9,0.118],[2.3,0.12],[2.9,0.118],[3.6,0.12],[4.5,0.118],
[0.105,0.2],[0.14,0.205],[0.18,0.2],[0.23,0.205],[0.29,0.2],[0.37,0.205],[0.46,0.2],[0.58,0.205],[0.73,0.2],[0.92,0.205],[1.15,0.2],[1.45,0.205],[1.85,0.2],[2.3,0.205],
[0.12,0.245],[0.16,0.26],[0.2,0.24],[0.26,0.255],[0.33,0.245],[0.42,0.25],[0.53,0.26],[0.66,0.245],[0.84,0.255],[1.05,0.245],[1.35,0.255],[1.7,0.245],[2.2,0.255],[2.8,0.245],
[0.13,0.34],[0.16,0.33],[0.21,0.345],[0.26,0.335],[0.33,0.345],[0.41,0.33],[0.5,0.345],[0.62,0.33],[0.78,0.345],[0.98,0.335],[1.25,0.345],[1.6,0.335],
[0.2,0.4],[0.3,0.41],[0.45,0.4],[0.7,0.41],[1.0,0.4],[1.3,0.41],[0.12,0.44],[0.16,0.45]
];

// ---------- DSA scatter ----------
const fps2Pts: number[][] = [
[0.27,6.1],[0.52,6.0],[10.3,6.0],[10,5.6],[9.4,4.35],[1.2,4.35],[1.6,4.0],[1.13,3.55],[1.7,3.45],[1.45,3.3],[3.9,3.5],[4.9,3.65],[6.0,3.1],[8.6,3.4],[10.8,3.4],[12.8,3.6],[17,3.9],[4.6,3.0],[3.7,2.95],[0.79,2.8],[0.75,2.75],[0.95,2.6],[1.0,2.45],[0.8,2.45],[1.26,2.67],[1.6,2.67],[11.3,2.7],[18,2.75],[27,2.8],[53,2.65],[25,2.4],[13.5,2.45],[11.5,2.2],[68,2.15],[11,2.15],[5,2.15],[4.6,2.1],[3.2,2.2],[2.4,2.25],[1.95,2.1],[1.6,2.2],[0.87,2.1],[1.2,2.15],[0.65,2.1],[0.34,2.15],[0.36,2.1],[0.23,2.0],[0.15,1.95],[0.0052,2.1],[0.012,2.0],[0.06,1.95],[0.24,1.87],[0.59,1.9],[0.52,1.85],[0.42,1.82],[0.28,1.75],[0.83,1.75],[1.32,1.85],[1.95,1.78],[2.8,1.82],[4.6,1.82],[7.6,1.75],[14,1.85],[22,1.8],[30,1.78],[47,1.9],[7.3,1.6],[10.3,1.6],[42,1.53],[47,1.37],[15.5,1.38],[11.6,1.4],[6,1.38],[4.6,1.31],[3.2,1.33],[2.4,1.38],[1.95,1.45],[1.32,1.45],[0.95,1.5],[0.68,1.38],[0.5,1.48],[0.38,1.62],[0.28,1.43],[0.23,1.4],[0.11,1.38],[0.12,1.38],[0.055,1.33],[0.0175,1.28],[0.024,1.15],[0.039,1.18],[0.0066,0.98],[0.0092,0.66],[0.0126,0.85],[0.0175,0.74],[0.019,0.72],[0.027,0.69],[0.03,0.8],[0.038,0.8],[0.036,0.64],[0.052,0.645],[0.05,0.57],[0.058,0.66],[0.072,0.52],[0.09,0.55],[0.1,0.69],[0.1,0.78],[0.12,1.06],[0.12,0.95],[0.14,0.93],[0.175,1.04],[0.18,1.17],[0.27,1.27],[0.32,1.04],[0.42,1.1],[0.59,1.17],[0.74,1.15],[0.52,1.22],[0.81,1.31],[0.98,1.13],[1.2,1.19],[1.35,1.15],[1.57,1.1],[1.7,1.04],[1.95,1.08],[2.4,1.14],[2.8,1.17],[3.2,1.19],[4.0,1.1],[4.7,1.06],[6,1.17],[7.3,1.23],[9,1.13],[11.5,1.04],[15.5,1.17],[28,1.13],[21,0.96],[28,0.95],[21,0.83],[9,0.83],[8,0.9],[5.6,0.89],[3.8,0.73],[6.3,0.51],[11.5,0.57],[9.4,0.46],[7.6,0.42],[3.7,0.46],[2.7,0.46],[2.2,0.45],[1.7,0.44],[0.87,0.38],[0.74,0.4],[0.65,0.41],[0.5,0.4],[0.52,0.36],[0.42,0.31],[0.59,0.28],[0.58,0.265],[0.77,0.28],[1.26,0.3],[1.45,0.31],[1.66,0.35],[0.33,0.33],[0.25,0.335],[0.19,0.33],[0.22,0.25],[0.2,0.14],[0.013,0.133],[0.046,0.26],[0.043,0.27],[0.072,0.41],[0.087,0.47],[0.1,0.42],[0.11,0.44],[0.14,0.45],[0.17,0.42],[0.18,0.43],[0.24,0.47],[0.29,0.48],[0.38,0.47],[0.45,0.48],[0.59,0.49],[0.81,0.5],[1.0,0.51],[1.45,0.53],[1.7,0.55],[2.1,0.54],[2.6,0.46],[0.068,0.51],[0.058,0.53],[0.09,0.69],[0.11,0.645],[0.13,0.69],[0.175,0.75],[0.22,0.78],[0.27,0.82],[0.34,0.87],[0.48,0.9],[0.59,0.85],[0.74,0.92],[0.81,0.82],[1.13,0.87],[1.4,0.82],[1.7,0.77],[2.1,0.82],[3.0,0.89],[3.8,0.83],[4.6,0.69],[2.2,0.69],[1.57,0.69],[1.13,0.68],[0.87,0.66],[0.65,0.645],[0.52,0.63],[0.38,0.62],[0.27,0.64],[0.22,0.66],[0.175,0.57],[0.14,0.55],[0.34,0.55],[0.48,0.54],[0.74,0.56],[1.13,0.57],[1.35,0.6],[2.4,0.57],[3.5,0.57],[2.85,0.645],
[0.2,0.88],[0.25,0.95],[0.3,1.0],[0.35,0.92],[0.4,0.98],[0.45,1.05],[0.55,0.95],[0.62,1.02],[0.7,0.97],[0.78,1.08],[0.9,1.0],[1.05,0.94],[1.25,1.02],[1.5,0.97],[1.8,0.92],[2.2,1.0],[2.6,0.95],[3.3,1.02],[4.2,0.94],[5.2,1.0],[0.22,1.12],[0.3,1.2],[0.38,1.15],[0.47,1.25],[0.65,1.22],[0.88,1.2],[1.1,1.28],[1.4,1.25],[1.75,1.22],[2.1,1.3],[2.6,1.27],[3.6,1.22],[5.0,1.25],[0.33,1.4],[0.42,1.35],[0.58,1.45],[0.78,1.42],[1.05,1.38],[1.15,1.55],[1.5,1.6],[2.0,1.55],[2.6,1.6],[3.4,1.5],[4.0,1.62],[5.5,1.5],[0.65,1.6],[0.85,1.68],[1.25,1.7],[1.7,1.72],[2.3,1.68],[3.0,1.7],[5.5,1.95],[6.5,2.3],[8,2.0],[2.6,1.98],[3.5,2.05],[1.4,2.3],[2.0,2.4],[0.55,2.3],[4.2,2.5],[0.16,0.7],[0.2,0.62],[0.26,0.58],[0.3,0.7],[0.43,0.7],[0.55,0.72],[0.66,0.78],[0.95,0.75],[1.25,0.78],[1.55,0.85],[1.9,0.86],[2.5,0.75],[3.2,0.78],[0.15,0.8],[0.13,0.85],[0.16,1.22],[0.14,1.1],[0.08,0.9],[0.065,1.05],[0.05,0.95],[0.045,0.72],[0.07,0.6],[0.033,0.48],[0.026,0.58],[0.04,0.38],[0.06,0.32],[0.08,0.35],[0.13,0.34],[0.15,0.38],[0.36,0.42],[1.1,0.42],[1.3,0.47],[0.95,0.33],[4.5,0.55],[5.5,0.7],[7.0,0.78],[14,1.0],[18,1.3],[25,1.55],[35,1.2],[9.5,1.95],[13,1.7],[20,2.2],[30,2.5],[16,0.65]
];

const fps3Pts: number[][] = [
[0.0021,0.64],[0.007,1.12],[0.022,0.9],[0.022,0.43],[0.038,1.3],[0.049,0.74],[0.075,1.02],[0.09,0.65],[0.067,0.28],[0.12,0.58],[0.11,0.54],[0.12,1.03],[0.17,1.65],[0.175,0.93],[0.17,0.61],[0.3,1.43],[0.35,1.3],[0.45,0.8],[0.36,0.82],[0.55,0.72],[0.7,1.04],[0.7,0.61],[0.74,0.45],[0.88,0.91],[0.9,1.25],[0.95,1.95],[1.13,1.38],[1.26,1.45],[1.38,2.07],[1.6,1.31],[2.0,2.63],[2.0,2.45],[2.6,2.55],[3.5,2.67],[3.7,2.8],[3.6,2.5],[3.6,1.5],[3.3,1.38],[6.0,0.65],[10.5,1.6],[63,1.65]
];

const roadmapPts: number[][] = [
[0.028,0.35],[0.057,0.36],[0.06,0.37],[0.07,0.32],[0.077,0.38],[0.08,0.29],[0.14,0.64],[0.17,0.51],[0.18,0.55],[0.22,0.64],[0.22,0.58],[0.26,0.8],[0.27,0.51],[0.27,0.45],[0.26,0.41],[0.33,0.58],[0.43,0.66],[0.46,0.34],[0.51,0.34],[0.52,0.5],[0.53,0.47],[0.84,0.34],[1.03,0.67],[1.1,0.62],[1.2,0.51],[1.3,0.91],[1.6,0.34],[1.7,0.5],[1.9,0.62],[1.95,0.54],[2.2,0.645],[2.65,0.69],[2.9,1.3],[3.6,1.45],[4.1,0.97],[7.0,1.55],[7.2,1.04],[8.4,0.33]
];

// ---------- top densities (x = DR operator, d = density) ----------
const fluoroDensLow = [[0.0005,0],[0.0021,0.01],[0.0037,0.02],[0.0072,0.08],[0.0126,0.25],[0.0224,0.33],[0.0347,0.53],[0.0617,0.76],[0.107,0.92],[0.151,0.85],[0.234,0.64],[0.331,0.46],[0.589,0.25],[1.0,0.11],[1.78,0.055],[3.16,0.02],[5.5,0.007],[15,0]];
const fluoroDensMedium = [[0.0005,0],[0.0032,0.01],[0.0072,0.1],[0.0145,0.15],[0.0282,0.3],[0.055,0.62],[0.095,0.8],[0.135,0.84],[0.186,0.76],[0.263,0.55],[0.513,0.39],[1.0,0.25],[1.78,0.19],[3.16,0.09],[5.5,0.02],[9.5,0.003],[15,0]];
const fluoroDensNormal = [[0.0005,0],[0.0063,0.02],[0.0112,0.06],[0.02,0.16],[0.0347,0.3],[0.0617,0.53],[0.107,0.63],[0.151,0.61],[0.214,0.55],[0.295,0.5],[0.417,0.52],[0.589,0.55],[0.813,0.46],[1.15,0.3],[1.78,0.2],[2.75,0.18],[4.37,0.18],[6.2,0.09],[9.5,0.02],[15,0]];
const fluoroDensBase = [[0.0005,0],[15,0]];
const fluoroXMedians = [0.098, 0.137, 0.22]; // low, medium, normal
const fluoroXMedianTop = 0.9;

const dsaDens2fps = [[0.00206,0.004],[0.0113,0.026],[0.0353,0.055],[0.078,0.126],[0.138,0.24],[0.218,0.413],[0.343,0.528],[0.68,0.568],[1.35,0.556],[2.66,0.485],[5.26,0.341],[10.4,0.255],[18.4,0.155],[32.4,0.083],[90,0.033]];
const dsaDens3fps = [[0.002,0],[0.00201,0.033],[0.0065,0.052],[0.016,0.097],[0.0353,0.183],[0.078,0.313],[0.155,0.377],[0.306,0.413],[0.605,0.463],[1.2,0.502],[2.12,0.463],[4.19,0.341],[8.3,0.212],[16.4,0.097],[32.4,0.047],[89.5,0.032],[90,0]];
const dsaDensRoadmap = [[0.002,0],[0.0091,0.011],[0.0179,0.069],[0.0353,0.169],[0.07,0.298],[0.138,0.456],[0.244,0.549],[0.324,0.559],[0.54,0.513],[0.853,0.467],[1.35,0.456],[1.89,0.456],[3.34,0.384],[6.6,0.24],[13.1,0.126],[25.8,0.04],[51,0.007],[90,0]];
const dsaDensBase = [[0.002,0],[90,0]];
const dsaXMedians = [1.03, 0.81, 0.55]; // 2fps, 3fps, roadmap
const dsaXMedianTop = 0.556;

// ---------- marginal densities (d = density, v = DR patient) ----------
const fluoroMargLow = [[0,0.148],[0.06,0.118],[0.31,0.096],[0.54,0.0786],[0.94,0.0676],[1.45,0.0553],[1.71,0.0476],[1.62,0.039],[1.57,0.0327],[1.31,0.0288],[1.11,0.0236],[0.77,0.0184],[0.43,0.0151],[0.14,0.0118],[0.04,0.0096],[0,0.0059]];
const fluoroMargMedium = [[0,0.33],[0.085,0.237],[0.28,0.209],[0.48,0.197],[0.31,0.175],[0.54,0.155],[0.71,0.13],[0.77,0.116],[1.34,0.101],[1.79,0.0826],[1.99,0.0676],[1.79,0.058],[1.45,0.049],[0.77,0.039],[0.37,0.032],[0.14,0.0248],[0.23,0.0188],[0.06,0.0158],[0.04,0.0129],[0,0.0096]];
const fluoroMargNormal = [[0,0.74],[0.085,0.65],[0.23,0.47],[0.2,0.38],[0.37,0.34],[0.66,0.3],[1.05,0.255],[1.45,0.225],[1.56,0.204],[1.48,0.172],[1.37,0.148],[1.45,0.13],[1.71,0.112],[1.74,0.103],[1.57,0.091],[1.05,0.085],[0.54,0.0766],[0.26,0.0645],[0.2,0.0526],[0.23,0.043],[0.14,0.037],[0.03,0.0319],[0.02,0.025],[0.05,0.02],[0.02,0.015],[0,0.0059]];
const fluoroMargBase = [[0,0.74],[0,0.0059]];
const fluoroYMedians = [0.0366, 0.0676, 0.147]; // low, medium, normal

const dsaMarg2fps = [[0.04,6.12],[0.067,4.83],[0.32,3.39],[0.77,2.37],[0.99,1.84],[1.07,1.54],[1.38,1.17],[1.55,0.957],[1.44,0.818],[1.04,0.671],[0.82,0.551],[0.54,0.402],[0.21,0.293],[0.04,0.214],[0.02,0.136]];
const dsaMarg3fps = [[0.02,5.4],[0.067,4.29],[0.26,3.52],[0.6,2.89],[0.99,1.87],[1.38,1.31],[1.44,1.035],[1.45,0.818],[1.35,0.671],[0.93,0.573],[0.6,0.49],[0.26,0.386],[0.095,0.282],[0.01,0.2055],[0,0.19]];
const dsaMargRoadmap = [[0,2.37],[0.067,2.07],[0.32,1.66],[0.42,1.36],[0.49,1.08],[0.82,0.885],[1.38,0.755],[1.94,0.671],[2.3,0.551],[2.11,0.48],[1.74,0.41],[1.69,0.371],[1.55,0.336],[0.82,0.287],[0.26,0.251],[0.04,0.214],[0,0.182]];
const dsaMargBase = [[0,6.1],[0,0.134]];
const dsaYMedians = [0.985, 1.016, 0.536]; // 2fps, 3fps, roadmap

// ---------- domains ----------
const FL_X: [number, number] = [0.000297, 27.3];
const FL_Y: [number, number] = [0.00464, 0.942];
const DSA_X: [number, number] = [0.00126, 114];
const DSA_TOPX: [number, number] = [0.00125, 100];
const DSA_Y: [number, number] = [0.112, 7.3];

// ---------- helpers ----------
const xy = (a: number[][]) => a.map(([x, y]) => ({ x, y }));
const xd = (a: number[][]) => a.map(([x, d]) => ({ x, d }));
const dv = (a: number[][]) => a.map(([d, v]) => ({ d, v }));

function logTicks(min: number, max: number) {
  const out: number[] = [];
  for (let e = -5; e <= 3; e++) {
    for (let m = 1; m <= 9; m++) {
      const v = +(m * Math.pow(10, e)).toPrecision(6);
      if (v >= min && v <= max) out.push(v);
    }
  }
  return out;
}
const mant = (v: number) => Math.round(v / Math.pow(10, Math.floor(Math.log10(v) + 1e-9)));
const findLabel = (v: number, vals: number[], texts: string[]) => {
  for (let i = 0; i < vals.length; i++) if (Math.abs(vals[i] - v) <= Math.abs(vals[i]) * 1e-6 + 1e-12) return texts[i];
  return null;
};
const tickLen = (v: number) => { const m = mant(v); return m === 1 ? 12 : m === 5 ? 9 : 6; };

const logXTick = (vals: number[], texts: string[]) => (p: any) => {
  const v = p.payload.value;
  const lab = findLabel(v, vals, texts);
  return (
    <g>
      <line x1={p.x} x2={p.x} y1={p.y} y2={p.y - tickLen(v)} stroke="#000" strokeWidth={1.6} />
      {lab && <text x={p.x} y={p.y + 20} textAnchor="middle" fontSize={13} fill={INK} fontFamily={FONT}>{lab}</text>}
    </g>
  );
};
const logYTick = (vals: number[], texts: string[]) => (p: any) => {
  const v = p.payload.value;
  const lab = findLabel(v, vals, texts);
  return (
    <g>
      <line x1={p.x} x2={p.x + tickLen(v)} y1={p.y} y2={p.y} stroke="#000" strokeWidth={1.6} />
      {lab && <text x={p.x - 8} y={p.y + 4.5} textAnchor="end" fontSize={13} fill={INK} fontFamily={FONT}>{lab}</text>}
    </g>
  );
};
const densXTick = (marks: number[], vals: number[], texts: string[], dy: number) => (p: any) => {
  const v = p.payload.value;
  const lab = findLabel(v, vals, texts);
  const mark = findLabel(v, marks, marks.map(String));
  return (
    <g>
      {mark && <line x1={p.x} x2={p.x} y1={p.y} y2={p.y + 5} stroke="#000" strokeWidth={1.4} />}
      {lab && <text x={p.x} y={p.y + dy} textAnchor="middle" fontSize={13} fill={INK} fontFamily={FONT}>{lab}</text>}
    </g>
  );
};

// marker shapes
const plusShape = (p: any) => <path d={`M${p.cx - 4},${p.cy}h8M${p.cx},${p.cy - 4}v8`} stroke={GRAY} strokeWidth={1.5} fill="none" />;
const triOpenShape = (p: any) => <path d={`M${p.cx},${p.cy - 4.3}L${p.cx + 4.6},${p.cy + 3.4}L${p.cx - 4.6},${p.cy + 3.4}Z`} stroke={ORANGE} strokeWidth={1.3} fill="none" />;
const sqOpenShape = (p: any) => <rect x={p.cx - 3.4} y={p.cy - 3.4} width={6.8} height={6.8} stroke={RED} strokeWidth={1.4} fill="none" />;
const sqFillShape = (p: any) => <rect x={p.cx - 3} y={p.cy - 3} width={6} height={6} fill={GRAY} />;
const circFillShape = (p: any) => <circle cx={p.cx} cy={p.cy} r={4.6} fill={ORANGE} />;
const triFillShape = (p: any) => <path d={`M${p.cx},${p.cy - 5}L${p.cx + 5},${p.cy + 4}L${p.cx - 5},${p.cy + 4}Z`} fill={RED} />;

const AX = { stroke: '#000', strokeWidth: 3 };
const ML = 70, MT = 10, MB = 50, MR = 10;
const MARGIN = { top: MT, right: MR, bottom: 0, left: 0 };
const place = (l: number, t: number): React.CSSProperties => ({ position: 'absolute', left: l - ML, top: t - MT });

function FluoroDensity() {
  const l = 92, t = 37, w = 339, h = 146;
  return (
    <div style={place(l, t)}>
      <ComposedChart width={w + ML + MR} height={h + MT + MB} margin={MARGIN}>
        <XAxis type="number" dataKey="x" scale="log" domain={FL_X} allowDataOverflow ticks={fluoroXLabelVals} interval={0}
          axisLine={AX} tickLine={false} tickSize={0} tickMargin={0} height={MB}
          tick={densXTick(fluoroXLabelVals, fluoroXLabelVals, fluoroXLabelTexts, 18)} />
        <YAxis type="number" domain={[-0.049, 0.965]} allowDataOverflow ticks={fluoroDensYTicks} interval={0} width={ML}
          axisLine={AX} tickLine={{ stroke: '#000', strokeWidth: 1.4 }} tickSize={5} tickMargin={3}
          tickFormatter={(v: number) => v.toFixed(2)} tick={{ fontSize: 13, fill: INK }} />
        <Line data={xd(fluoroDensLow)} dataKey="d" type="monotone" stroke={GRAY} strokeWidth={1.5} dot={false} isAnimationActive={false} />
        <Line data={xd(fluoroDensMedium)} dataKey="d" type="monotone" stroke={ORANGE} strokeWidth={1.5} dot={false} isAnimationActive={false} />
        <Line data={xd(fluoroDensNormal)} dataKey="d" type="monotone" stroke={RED} strokeWidth={1.5} dot={false} isAnimationActive={false} />
        <Line data={xd(fluoroDensBase)} dataKey="d" type="linear" stroke={RED} strokeWidth={2} dot={false} isAnimationActive={false} />
        <ReferenceLine segment={[{ x: fluoroXMedians[0], y: 0 }, { x: fluoroXMedians[0], y: fluoroXMedianTop }]} stroke={GRAY} strokeWidth={3} strokeDasharray="14 6" />
        <ReferenceLine segment={[{ x: fluoroXMedians[1], y: 0 }, { x: fluoroXMedians[1], y: fluoroXMedianTop }]} stroke={ORANGE} strokeWidth={3} strokeDasharray="14 6" />
        <ReferenceLine segment={[{ x: fluoroXMedians[2], y: 0 }, { x: fluoroXMedians[2], y: fluoroXMedianTop }]} stroke={RED} strokeWidth={3} strokeDasharray="14 6" />
      </ComposedChart>
    </div>
  );
}

function FluoroScatter() {
  const l = 92, t = 245, w = 339, h = 353;
  return (
    <div style={place(l, t)}>
      <ScatterChart width={w + ML + MR} height={h + MT + MB} margin={MARGIN}>
        <XAxis type="number" dataKey="x" scale="log" domain={FL_X} allowDataOverflow ticks={logTicks(FL_X[0], FL_X[1])} interval={0}
          axisLine={AX} tickLine={false} tickSize={0} tickMargin={0} height={MB} tick={logXTick(fluoroXLabelVals, fluoroXLabelTexts)} />
        <YAxis type="number" dataKey="y" scale="log" domain={FL_Y} allowDataOverflow ticks={logTicks(FL_Y[0], FL_Y[1])} interval={0}
          axisLine={AX} tickLine={false} tickSize={0} tickMargin={0} width={ML} tick={logYTick(fluoroYLabelVals, fluoroYLabelTexts)} />
        <Scatter data={xy(lowPts)} shape={plusShape} isAnimationActive={false} />
        <Scatter data={xy(mediumPts)} shape={triOpenShape} isAnimationActive={false} />
        <Scatter data={xy(lowCorePts)} shape={plusShape} isAnimationActive={false} />
        <Scatter data={xy(mediumCorePts)} shape={triOpenShape} isAnimationActive={false} />
        <Scatter data={xy(lowFillPts)} shape={plusShape} isAnimationActive={false} />
        <Scatter data={xy(mediumFillPts)} shape={triOpenShape} isAnimationActive={false} />
        <Scatter data={xy(normalPts)} shape={sqOpenShape} isAnimationActive={false} />
        <Scatter data={xy(normalRowPts)} shape={sqOpenShape} isAnimationActive={false} />
      </ScatterChart>
    </div>
  );
}

function FluoroMarginal() {
  const l = 509, t = 245, w = 131, h = 353;
  return (
    <div style={place(l, t)}>
      <ComposedChart layout="vertical" width={w + ML + MR} height={h + MT + MB} margin={MARGIN}>
        <XAxis type="number" domain={[-0.1, 2.14]} allowDataOverflow ticks={margXTicks} interval={0} height={MB}
          axisLine={AX} tickLine={{ stroke: '#000', strokeWidth: 1.4 }} tickSize={5} tickMargin={6}
          tickFormatter={(v: number) => (v === 0 ? '0' : v.toFixed(1))} tick={{ fontSize: 13, fill: INK }} />
        <YAxis type="number" dataKey="v" scale="log" reversed domain={FL_Y} allowDataOverflow ticks={fluoroYLabelVals} interval={0} width={ML}
          axisLine={AX} tickLine={false} tickSize={0} tickMargin={9}
          tickFormatter={(v: number) => findLabel(v, fluoroYLabelVals, fluoroYLabelTexts) || ''} tick={{ fontSize: 13, fill: INK }} />
        <Line data={dv(fluoroMargLow)} dataKey="d" type="monotone" stroke={GRAY} strokeWidth={1.5} dot={false} isAnimationActive={false} />
        <Line data={dv(fluoroMargMedium)} dataKey="d" type="monotone" stroke={ORANGE} strokeWidth={1.5} dot={false} isAnimationActive={false} />
        <Line data={dv(fluoroMargNormal)} dataKey="d" type="monotone" stroke={RED} strokeWidth={1.5} dot={false} isAnimationActive={false} />
        <Line data={dv(fluoroMargBase)} dataKey="d" type="linear" stroke={RED} strokeWidth={2} dot={false} isAnimationActive={false} />
        <ReferenceLine segment={[{ x: 0, y: fluoroYMedians[0] }, { x: 2.13, y: fluoroYMedians[0] }]} stroke={GRAY} strokeWidth={3} strokeDasharray="14 6" />
        <ReferenceLine segment={[{ x: 0, y: fluoroYMedians[1] }, { x: 2.13, y: fluoroYMedians[1] }]} stroke={ORANGE} strokeWidth={3} strokeDasharray="14 6" />
        <ReferenceLine segment={[{ x: 0, y: fluoroYMedians[2] }, { x: 2.13, y: fluoroYMedians[2] }]} stroke={RED} strokeWidth={3} strokeDasharray="14 6" />
      </ComposedChart>
    </div>
  );
}

function DsaDensity() {
  const l = 742, t = 37, w = 331, h = 145;
  const allTicks = [0.01, 0.045, 0.1, 0.22, 1, 5, 10, 40];
  return (
    <div style={place(l, t)}>
      <ComposedChart width={w + ML + MR} height={h + MT + MB} margin={MARGIN}>
        <XAxis type="number" dataKey="x" scale="log" domain={DSA_TOPX} allowDataOverflow ticks={allTicks} interval={0}
          axisLine={AX} tickLine={false} tickSize={0} tickMargin={0} height={MB}
          tick={densXTick(dsaTopTickMarks, dsaXLabelVals, dsaXLabelTexts, 20)} />
        <YAxis type="number" domain={[-0.026, 0.598]} allowDataOverflow ticks={dsaDensYTicks} interval={0} width={ML}
          axisLine={AX} tickLine={{ stroke: '#000', strokeWidth: 1.4 }} tickSize={5} tickMargin={6}
          tickFormatter={(v: number) => v.toFixed(1)} tick={{ fontSize: 13, fill: INK }} />
        <Line data={xd(dsaDens2fps)} dataKey="d" type="monotone" stroke={GRAY} strokeWidth={1.5} dot={false} isAnimationActive={false} />
        <Line data={xd(dsaDens3fps)} dataKey="d" type="monotone" stroke={ORANGE} strokeWidth={1.5} dot={false} isAnimationActive={false} />
        <Line data={xd(dsaDensRoadmap)} dataKey="d" type="monotone" stroke={RED} strokeWidth={1.5} dot={false} isAnimationActive={false} />
        <Line data={xd(dsaDensBase)} dataKey="d" type="linear" stroke={RED} strokeWidth={2} dot={false} isAnimationActive={false} />
        <ReferenceLine segment={[{ x: dsaXMedians[0], y: 0 }, { x: dsaXMedians[0], y: dsaXMedianTop }]} stroke={GRAY} strokeWidth={3} strokeDasharray="14 6" />
        <ReferenceLine segment={[{ x: dsaXMedians[1], y: 0 }, { x: dsaXMedians[1], y: dsaXMedianTop }]} stroke={ORANGE} strokeWidth={3} strokeDasharray="14 6" />
        <ReferenceLine segment={[{ x: dsaXMedians[2], y: 0 }, { x: dsaXMedians[2], y: dsaXMedianTop }]} stroke={RED} strokeWidth={3} strokeDasharray="14 6" />
      </ComposedChart>
    </div>
  );
}

function DsaScatter() {
  const l = 740, t = 245, w = 347, h = 353;
  return (
    <div style={place(l, t)}>
      <ScatterChart width={w + ML + MR} height={h + MT + MB} margin={MARGIN}>
        <XAxis type="number" dataKey="x" scale="log" domain={DSA_X} allowDataOverflow ticks={logTicks(DSA_X[0], DSA_X[1])} interval={0}
          axisLine={AX} tickLine={false} tickSize={0} tickMargin={0} height={MB} tick={logXTick(dsaXLabelVals, dsaXLabelTexts)} />
        <YAxis type="number" dataKey="y" scale="log" domain={DSA_Y} allowDataOverflow ticks={logTicks(DSA_Y[0], DSA_Y[1])} interval={0}
          axisLine={AX} tickLine={false} tickSize={0} tickMargin={0} width={ML} tick={logYTick(dsaYLabelVals, dsaYLabelTexts)} />
        <Scatter data={xy(fps2Pts)} shape={sqFillShape} isAnimationActive={false} />
        <Scatter data={xy(fps3Pts)} shape={circFillShape} isAnimationActive={false} />
        <Scatter data={xy(roadmapPts)} shape={triFillShape} isAnimationActive={false} />
      </ScatterChart>
    </div>
  );
}

function DsaMarginal() {
  const l = 1143, t = 245, w = 151, h = 353;
  return (
    <div style={place(l, t)}>
      <ComposedChart layout="vertical" width={w + ML + MR} height={h + MT + MB} margin={MARGIN}>
        <XAxis type="number" domain={[-0.134, 2.4]} allowDataOverflow ticks={margXTicks} interval={0} height={MB}
          axisLine={AX} tickLine={{ stroke: '#000', strokeWidth: 1.4 }} tickSize={5} tickMargin={6}
          tickFormatter={(v: number) => v.toFixed(1)} tick={{ fontSize: 13, fill: INK }} />
        <YAxis type="number" dataKey="v" scale="log" reversed domain={DSA_Y} allowDataOverflow ticks={dsaYLabelVals} interval={0} width={ML}
          axisLine={AX} tickLine={false} tickSize={0} tickMargin={9}
          tickFormatter={(v: number) => findLabel(v, dsaYLabelVals, dsaYLabelTexts) || ''} tick={{ fontSize: 13, fill: INK }} />
        <Line data={dv(dsaMarg2fps)} dataKey="d" type="monotone" stroke={GRAY} strokeWidth={1.5} dot={false} isAnimationActive={false} />
        <Line data={dv(dsaMarg3fps)} dataKey="d" type="monotone" stroke={ORANGE} strokeWidth={1.5} dot={false} isAnimationActive={false} />
        <Line data={dv(dsaMargRoadmap)} dataKey="d" type="monotone" stroke={RED} strokeWidth={1.5} dot={false} isAnimationActive={false} />
        <Line data={dv(dsaMargBase)} dataKey="d" type="linear" stroke={RED} strokeWidth={2} dot={false} isAnimationActive={false} />
        <ReferenceLine segment={[{ x: 0, y: dsaYMedians[0] }, { x: 2.39, y: dsaYMedians[0] }]} stroke={GRAY} strokeWidth={3} strokeDasharray="14 6" />
        <ReferenceLine segment={[{ x: 0, y: dsaYMedians[1] }, { x: 2.39, y: dsaYMedians[1] }]} stroke={ORANGE} strokeWidth={3} strokeDasharray="14 6" />
        <ReferenceLine segment={[{ x: 0, y: dsaYMedians[2] }, { x: 2.39, y: dsaYMedians[2] }]} stroke={RED} strokeWidth={3} strokeDasharray="14 6" />
      </ComposedChart>
    </div>
  );
}

function Overlay() {
  const yTitle = (x: number, cy: number) => (
    <text transform={`translate(${x},${cy}) rotate(-90)`} textAnchor="middle" fontSize={18} fill="#111">
      Dose Area Product Dose Rate (DR<tspan dy={4} fontSize={11}>patient</tspan><tspan dy={-4}>) Gycm²/s</tspan>
    </text>
  );
  const xTitle = (cx: number, y: number) => (
    <text x={cx} y={y} textAnchor="middle" fontSize={17} fill="#111">
      Effective Dose Rate Operator (DR<tspan dy={4} fontSize={10.5}>Operator</tspan><tspan dy={-4}>), mSv/h</tspan>
    </text>
  );
  return (
    <svg width={1316} height={672} style={{ position: 'absolute', left: 0, top: 0, pointerEvents: 'none' }} fontFamily={FONT}>
      <rect x={7} y={6} width={1400} height={800} fill="none" stroke="#222" strokeWidth={1.6} />
      <text transform="translate(53,110) rotate(-90)" textAnchor="middle" fontSize={17} fill="#111">density</text>
      <text transform="translate(703,110) rotate(-90)" textAnchor="middle" fontSize={17} fill="#111">density</text>
      <text x={573} y={640} textAnchor="middle" fontSize={17} fill="#111">density</text>
      <text x={1218} y={640} textAnchor="middle" fontSize={17} fill="#111">density</text>
      {yTitle(45, 397)}
      {yTitle(695, 400)}
      {xTitle(255, 641)}
      {xTitle(927, 642)}
      <rect x={452} y={35} width={185} height={148} fill="#fff" stroke="#1a1a1a" strokeWidth={3} />
      <text x={468} y={61} fontSize={17} fill="#111">Fluoroscopy protocol</text>
      <path d="M475,87h8M479,83v8" stroke={GRAY} strokeWidth={1.3} />
      <text x={489} y={90} fontSize={14} fill="#111">Low</text>
      <path d="M478,112.5L483,120.5L473,120.5Z" stroke={ORANGE} strokeWidth={1.3} fill="none" />
      <text x={489} y={122} fontSize={14} fill="#111">Medium</text>
      <rect x={475.5} y={148.5} width={7} height={7} stroke={RED} strokeWidth={1.4} fill="none" />
      <text x={489} y={157} fontSize={14} fill="#111">Normal</text>
      <rect x={1108} y={39} width={185} height={147} fill="#fff" stroke="#1a1a1a" strokeWidth={3} />
      <text x={1148} y={65} fontSize={17} fill="#111">DSA protocol</text>
      <rect x={1130} y={87} width={8} height={8} fill={GRAY} />
      <text x={1150} y={96} fontSize={14} fill="#111">2fps</text>
      <circle cx={1134} cy={122} r={4.5} fill={ORANGE} />
      <text x={1150} y={126} fontSize={14} fill="#111">3 fps</text>
      <path d="M1136,152L1141,161L1131,161Z" fill={RED} />
      <text x={1146} y={162} fontSize={14} fill="#111">Roadmap</text>
    </svg>
  );
}

export default function App() {
  return (
    <div style={{ position: 'absolute', left: 0, top: 0, width: 1316, height: 672, background: '#fff', overflow: 'hidden', fontFamily: FONT }}>
      <FluoroDensity />
      <FluoroScatter />
      <FluoroMarginal />
      <DsaDensity />
      <DsaScatter />
      <DsaMarginal />
      <Overlay />
    </div>
  );
}
